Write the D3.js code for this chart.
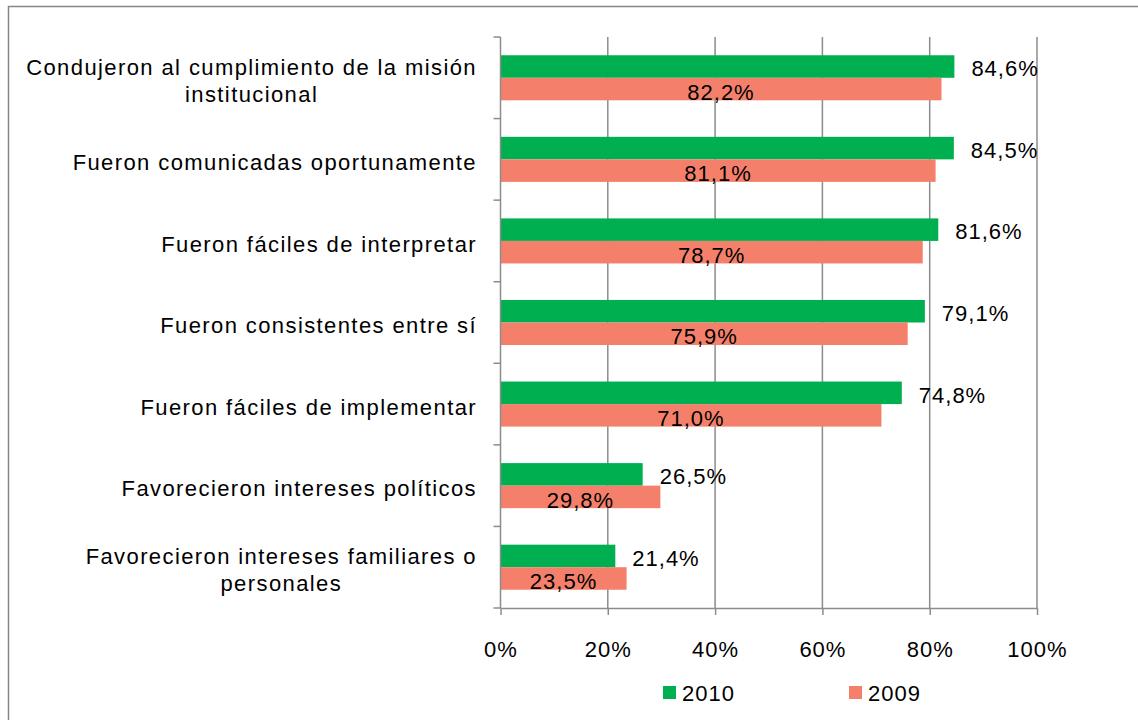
<!DOCTYPE html>
<html>
<head>
<meta charset="utf-8">
<script src="https://cdn.jsdelivr.net/npm/d3@7"></script>
<style>
  body { margin: 0; background: #fff; }
  text { font-family: "Liberation Sans", Arial, sans-serif; fill: #000; }
</style>
</head>
<body>
<svg width="1138" height="720"></svg>
<script>
const svg = d3.select('svg');
const width = +svg.attr('width');
const height = +svg.attr('height');

// data
const categories = [
  ['Condujeron al cumplimiento de la misión', 'institucional'],
  ['Fueron comunicadas oportunamente'],
  ['Fueron fáciles de interpretar'],
  ['Fueron consistentes entre sí'],
  ['Fueron fáciles de implementar'],
  ['Favorecieron intereses políticos'],
  ['Favorecieron intereses familiares o', 'personales']
];
const series = ['2010', '2009'];
const values2010 = [84.6, 84.5, 81.6, 79.1, 74.8, 26.5, 21.4];
const values2009 = [82.2, 81.1, 78.7, 75.9, 71.0, 29.8, 23.5];
const xTicks = [0, 20, 40, 60, 80, 100];

const colors = { '2010': '#00b050', '2009': '#f4806b' };
const gridColor = '#8c8c8c';
const fontSize = 22;

// chart frame
svg.append('rect')
  .attr('x', 8.5).attr('y', 6.5)
  .attr('width', width + 10).attr('height', height + 10)
  .attr('fill', 'none')
  .attr('stroke', '#868686')
  .attr('stroke-width', 1.5);

const margin = { top: 37, left: 500.5 };
const plotRight = 1037;
const plotBottom = 608;
const labelRight = 477;

const xScale = d3.scaleLinear()
  .domain([0, 100])
  .range([margin.left, plotRight]);

const yScale = d3.scaleBand()
  .domain(d3.range(categories.length))
  .range([margin.top, plotBottom]);

const sScale = d3.scaleBand()
  .domain(series)
  .range([0, yScale.bandwidth()])
  .paddingOuter(0.81);

const fmt = v => d3.format('.1f')(v).replace('.', ',') + '%';

// vertical gridlines
svg.append('g')
  .selectAll('line')
  .data(xTicks.slice(1))
  .enter().append('line')
    .attr('x1', d => xScale(d)).attr('x2', d => xScale(d))
    .attr('y1', margin.top).attr('y2', plotBottom)
    .attr('stroke', gridColor)
    .attr('stroke-width', 1.5);

// bars
const rows = categories.map((c, i) => ({ i, c, v2010: values2010[i], v2009: values2009[i] }));

const rowG = svg.append('g')
  .selectAll('g')
  .data(rows)
  .enter().append('g')
    .attr('transform', d => `translate(0,${yScale(d.i)})`);

rowG.append('rect')
  .attr('x', xScale(0))
  .attr('y', sScale('2010'))
  .attr('width', d => xScale(d.v2010) - xScale(0))
  .attr('height', sScale.bandwidth())
  .attr('fill', colors['2010']);

rowG.append('rect')
  .attr('x', xScale(0))
  .attr('y', sScale('2009'))
  .attr('width', d => xScale(d.v2009) - xScale(0))
  .attr('height', sScale.bandwidth())
  .attr('fill', colors['2009']);

// value labels
rowG.append('text')
  .attr('x', d => xScale(d.v2010) + 17)
  .attr('y', sScale('2010') + sScale.bandwidth() / 2 + 2)
  .attr('dy', '0.35em')
  .attr('font-size', fontSize)
  .attr('letter-spacing', 1)
  .text(d => fmt(d.v2010));

rowG.append('text')
  .attr('x', d => (xScale(d.v2009) + xScale(0)) / 2)
  .attr('y', sScale('2009') + sScale.bandwidth() / 2 + 3)
  .attr('dy', '0.35em')
  .attr('text-anchor', 'middle')
  .attr('font-size', fontSize)
  .attr('letter-spacing', 1)
  .text(d => fmt(d.v2009));

// category labels: block is right aligned, wrapped lines centred in it
const catText = rowG.append('text')
  .attr('text-anchor', 'middle')
  .attr('font-size', fontSize)
  .attr('letter-spacing', 1.4);

catText.each(function(d) {
  const t = d3.select(this);
  const lh = 27;
  const y0 = yScale.bandwidth() / 2 + 3 - (d.c.length - 1) * lh / 2;
  const spans = d.c.map((line, k) =>
    t.append('tspan')
      .attr('y', y0 + k * lh)
      .attr('dy', '0.35em')
      .text(line));
  const maxW = d3.max(spans, s => s.node().getComputedTextLength());
  spans.forEach(s => s.attr('x', labelRight - maxW / 2));
});

// y axis
const yAxisG = svg.append('g')
  .attr('transform', `translate(${margin.left},0)`);
yAxisG.append('line')
  .attr('x1', 0).attr('x2', 0)
  .attr('y1', margin.top).attr('y2', plotBottom)
  .attr('stroke', gridColor).attr('stroke-width', 1.5);
yAxisG.selectAll('.tick')
  .data(d3.range(categories.length + 1))
  .enter().append('line')
    .attr('x1', -7).attr('x2', 0)
    .attr('y1', d => d < categories.length ? yScale(d) : plotBottom)
    .attr('y2', d => d < categories.length ? yScale(d) : plotBottom)
    .attr('stroke', gridColor).attr('stroke-width', 1.5);

// x axis
const xAxis = d3.axisBottom(xScale)
  .tickValues(xTicks)
  .tickFormat(d => d + '%')
  .tickSize(7)
  .tickSizeOuter(0)
  .tickPadding(26);

const xAxisG = svg.append('g')
  .attr('transform', `translate(0,${plotBottom})`)
  .call(xAxis);
xAxisG.select('.domain')
  .attr('stroke', gridColor).attr('stroke-width', 1.5);
xAxisG.selectAll('.tick line')
  .attr('stroke', gridColor).attr('stroke-width', 1.5);
xAxisG.selectAll('.tick text')
  .attr('font-size', fontSize)
  .attr('letter-spacing', 1)
  .attr('font-family', '"Liberation Sans", Arial, sans-serif')
  .attr('fill', '#000');

// legend
const legendX = d3.scalePoint()
  .domain(series)
  .range([663, 849]);

const legend = svg.append('g')
  .selectAll('g')
  .data(series)
  .enter().append('g')
    .attr('transform', d => `translate(${legendX(d)},686)`);

legend.append('rect')
  .attr('width', 13).attr('height', 13)
  .attr('fill', d => colors[d]);

legend.append('text')
  .attr('x', 19)
  .attr('y', 7)
  .attr('dy', '0.35em')
  .attr('font-size', fontSize)
  .attr('letter-spacing', 1)
  .text(d => d);
</script>
</body>
</html>
